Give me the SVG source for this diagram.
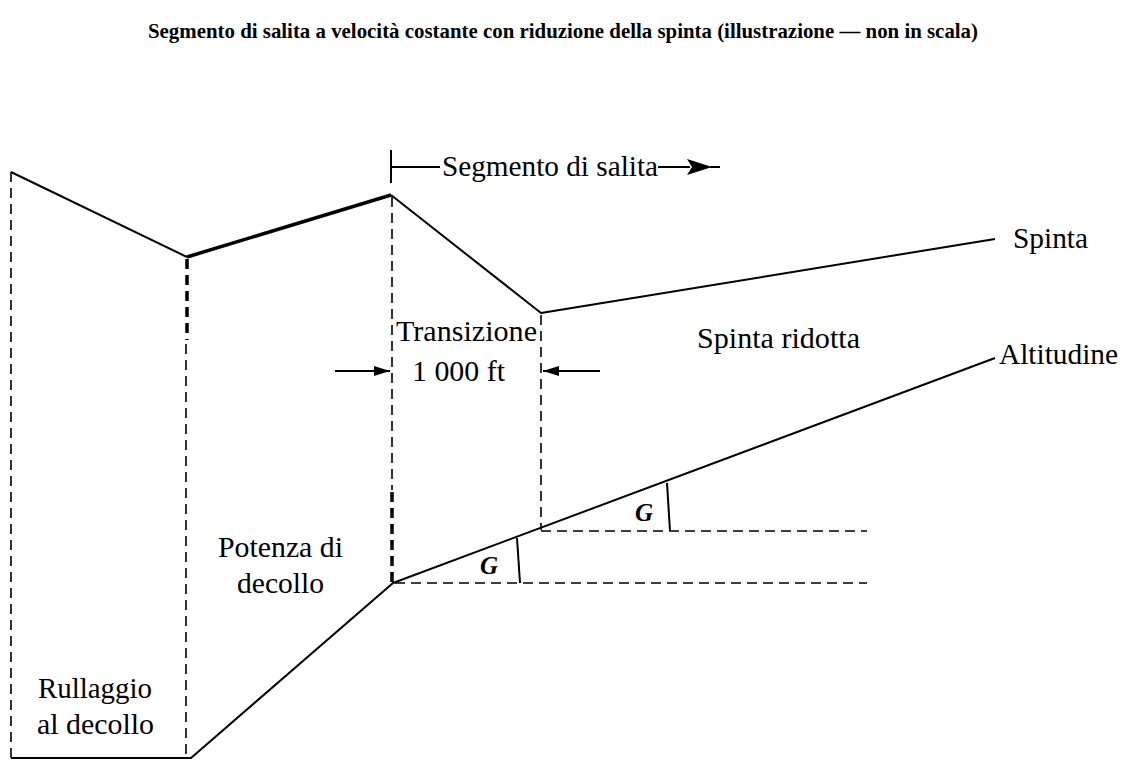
<svg xmlns="http://www.w3.org/2000/svg" width="1128" height="760" viewBox="0 0 1128 760">
<style>
  text { font-family: "Liberation Serif", "DejaVu Serif", serif; fill: #000; }
  .lbl { font-size: 30px; }
  .title { font-size: 21px; font-weight: bold; }
  .g { font-size: 25px; font-style: italic; font-weight: bold; }
  .ln { stroke: #000; fill: none; stroke-width: 2; stroke-linejoin: round; }
  .thick { stroke: #000; fill: none; stroke-width: 3.5; }
  .dash { stroke: #000; fill: none; stroke-width: 1.6; stroke-dasharray: 10 6; }
  .dashT { stroke: #000; fill: none; stroke-width: 3.5; stroke-dasharray: 10 6; }
</style>
<defs>
  <marker id="ah" viewBox="0 0 16 10" refX="16" refY="5" markerWidth="16" markerHeight="10" markerUnits="userSpaceOnUse" orient="auto">
    <path d="M0,0 L16,5 L0,10 z" fill="#000"/>
  </marker>
</defs>
<rect width="1128" height="760" fill="#fff"/>

<text class="title" x="563" y="38" text-anchor="middle" textLength="830" lengthAdjust="spacingAndGlyphs">Segmento di salita a velocità costante con riduzione della spinta (illustrazione — non in scala)</text>

<g id="connectors">
  <!-- thrust curve -->
  <polyline class="ln" points="11,172 187,257"/>
  <polyline class="thick" points="187,257 391,195"/>
  <polyline class="ln" points="391,195 541,313 995,239"/>
  <!-- altitude curve -->
  <polyline class="ln" points="11,758 191,758 393,583 995,358"/>
  <!-- vertical dashed -->
  <line class="dash" x1="11" y1="172" x2="11" y2="758"/>
  <line class="dashT" x1="187" y1="259" x2="187" y2="340"/>
  <line class="dash" x1="186" y1="344" x2="186" y2="758"/>
  <line class="dash" x1="392" y1="197" x2="392" y2="490"/>
  <line class="dashT" x1="392" y1="492" x2="392" y2="583"/>
  <line class="dash" x1="541" y1="315" x2="541" y2="530"/>
  <!-- horizontal dashed -->
  <line class="dash" x1="395" y1="583" x2="867" y2="583"/>
  <line class="dash" x1="541" y1="531" x2="867" y2="531"/>
  <!-- G marks -->
  <line class="ln" x1="517" y1="538" x2="520" y2="583"/>
  <line class="ln" x1="667" y1="483" x2="670" y2="531"/>
  <!-- climb segment indicator -->
  <line class="ln" x1="391" y1="150" x2="391" y2="183"/>
  <line class="ln" x1="391" y1="167" x2="440" y2="167"/>
  <line class="ln" x1="658" y1="167" x2="690" y2="167"/>
  <polygon points="687,159 712,167 687,175 692,167" fill="#000"/>
  <line class="ln" x1="710" y1="167" x2="720" y2="167"/>
  <!-- 1000 ft arrows -->
  <line class="ln" x1="335" y1="371" x2="390" y2="371" marker-end="url(#ah)"/>
  <line class="ln" x1="600" y1="371" x2="543" y2="371" marker-end="url(#ah)"/>
</g>

<g id="label-segmento"><text class="lbl" x="442" y="176" textLength="216" lengthAdjust="spacingAndGlyphs">Segmento di salita</text></g>
<g id="label-transizione"><text class="lbl" x="396" y="341" textLength="141" lengthAdjust="spacingAndGlyphs">Transizione</text></g>
<g id="label-1000ft"><text class="lbl" x="412" y="381" textLength="93" lengthAdjust="spacingAndGlyphs">1 000 ft</text></g>
<g id="label-spinta-ridotta"><text class="lbl" x="697" y="348" textLength="163" lengthAdjust="spacingAndGlyphs">Spinta ridotta</text></g>
<g id="label-spinta"><text class="lbl" x="1013" y="248" textLength="75" lengthAdjust="spacingAndGlyphs">Spinta</text></g>
<g id="label-altitudine"><text class="lbl" x="999" y="364" textLength="119" lengthAdjust="spacingAndGlyphs">Altitudine</text></g>
<g id="label-potenza"><text class="lbl" x="218" y="557" textLength="125" lengthAdjust="spacingAndGlyphs">Potenza di</text><text class="lbl" x="237" y="593" textLength="87" lengthAdjust="spacingAndGlyphs">decollo</text></g>
<g id="label-rullaggio"><text class="lbl" x="38" y="698" textLength="114" lengthAdjust="spacingAndGlyphs">Rullaggio</text><text class="lbl" x="37" y="734" textLength="117" lengthAdjust="spacingAndGlyphs">al decollo</text></g>
<g id="label-g1"><text class="g" x="480" y="574">G</text></g>
<g id="label-g2"><text class="g" x="635" y="521">G</text></g>
</svg>
